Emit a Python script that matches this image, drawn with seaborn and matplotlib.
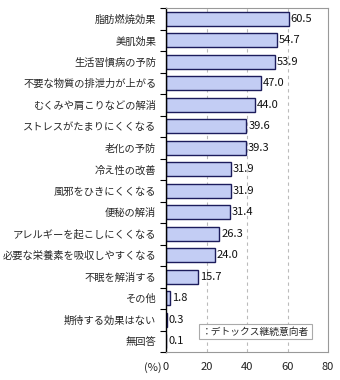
import matplotlib
matplotlib.use("Agg")
import matplotlib.pyplot as plt
import seaborn as sns
import pandas as pd
from matplotlib.ticker import FixedLocator

categories = ["脂肪燃焼効果", "美肌効果", "生活習慣病の予防", "不要な物質の排泄力が上がる",
              "むくみや肩こりなどの解消", "ストレスがたまりにくくなる", "老化の予防", "冷え性の改善",
              "風邪をひきにくくなる", "便秘の解消", "アレルギーを起こしにくくなる",
              "必要な栄養素を吸収しやすくなる", "不眠を解消する", "その他", "期待する効果はない", "無回答"]
values = [60.5, 54.7, 53.9, 47.0, 44.0, 39.6, 39.3, 31.9, 31.9, 31.4, 26.3, 24.0, 15.7, 1.8, 0.3, 0.1]
series_name = "デトックス継続意向者"
x_ticks = [0, 20, 40, 60, 80]

sns.set_theme(style="white")
plt.rcParams['font.family'] = ['Noto Sans CJK JP', 'DejaVu Sans']

df = pd.DataFrame({"cat": categories, "val": values})

fig = plt.figure(figsize=(3.4, 3.8), dpi=100)
ax = fig.add_axes([166/340, 1-352/380, (328-166)/340, (352-8)/380])

sns.barplot(data=df, y="cat", x="val", orient="h", color="#c3cdf4",
            edgecolor="#1c1c5c", linewidth=1.0, width=0.64, saturation=1, ax=ax)

ax.set_xlim(0, 80)
ax.set_ylim(len(categories)-0.5, -0.5)
ax.set_xlabel("")
ax.set_ylabel("")
ax.set_xticks(x_ticks)
ax.set_xticklabels([str(t) for t in x_ticks], fontsize=8, color="#222222")
ax.tick_params(axis='x', length=0, pad=7)
ax.tick_params(axis='y', which='major', length=0, pad=7, labelsize=7.4)
ax.yaxis.set_minor_locator(FixedLocator([i - 0.5 for i in range(len(categories)+1)]))
ax.tick_params(axis='y', which='minor', length=4, width=0.8, color='#000000', left=True)

for g in [20, 40, 60]:
    ax.axvline(g, color="#bbbbbb", linestyle=(0, (3, 3)), linewidth=0.8, zorder=0)

for s in ['top', 'right', 'bottom']:
    ax.spines[s].set_color('#999999')
    ax.spines[s].set_linewidth(0.8)
ax.spines['left'].set_color('#000000')
ax.spines['left'].set_linewidth(1.0)

for i, v in enumerate(values):
    ax.text(v + 1.0, i, f"{v:.1f}", va='center', ha='left', fontsize=8, color='#111111')

ax.text(-0.03, -0.045, "(%)", transform=ax.transAxes, ha='right', va='center', fontsize=8)

ax.text(17.5, 14.55, "：" + series_name, fontsize=7, va='center', ha='left',
        bbox=dict(boxstyle='square,pad=0.3', facecolor='white', edgecolor='#aaaaaa', linewidth=0.8))

fig.savefig("out.png", dpi=100)
